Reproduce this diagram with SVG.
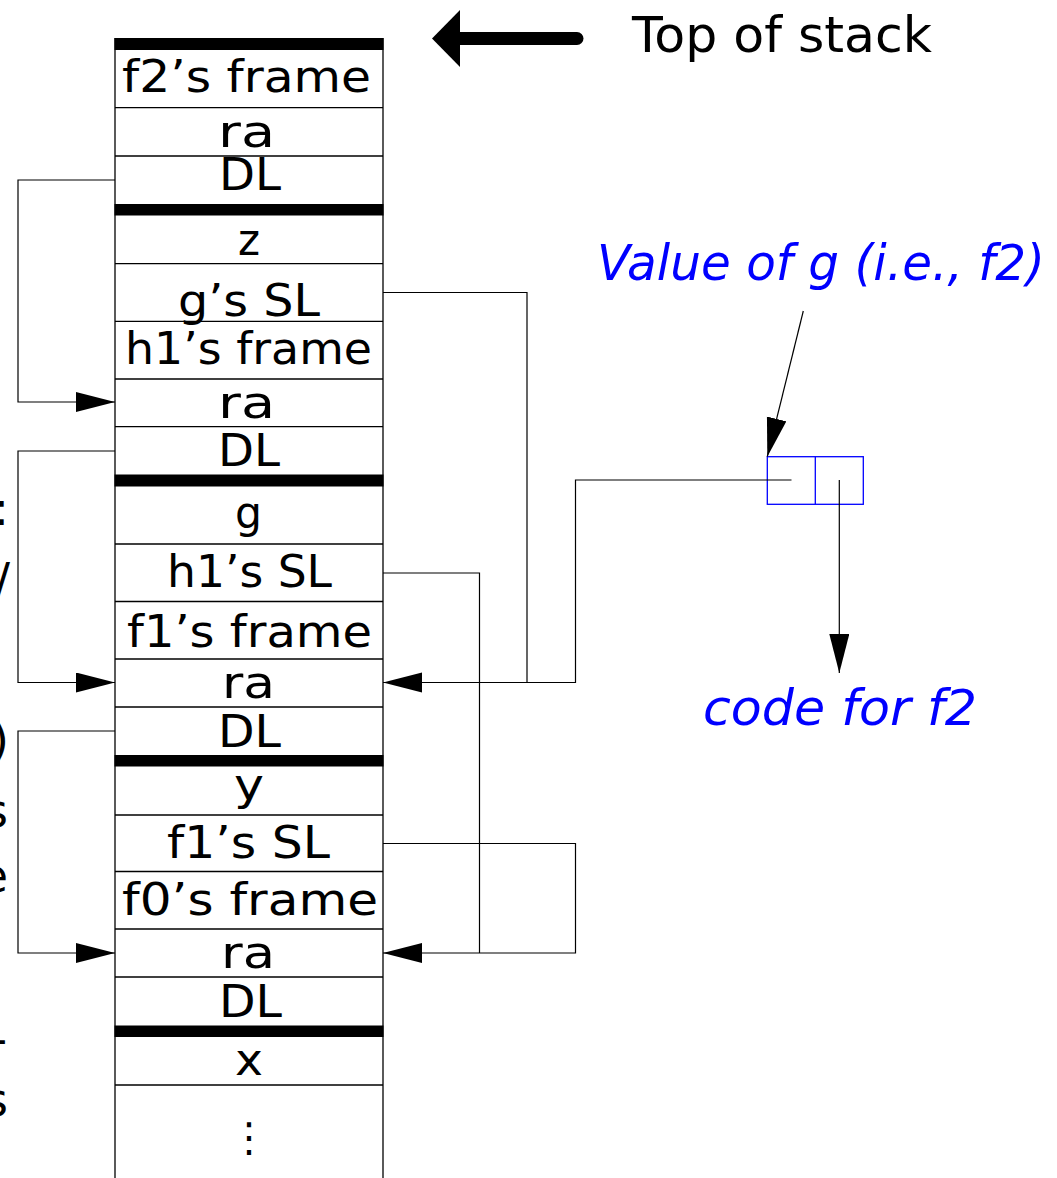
<svg xmlns="http://www.w3.org/2000/svg" width="1057" height="1178" viewBox="0 0 1057 1178">
  <style>
    .cell { fill: none; stroke: #000; stroke-width: 1.3; }
    .bar { fill: #000; }
    .lbl { font-family: "DejaVu Sans", "Liberation Sans", sans-serif; font-size: 45px; fill: #000; text-anchor: start; }
    .blue { font-family: "DejaVu Sans", "Liberation Sans", sans-serif; font-size: 50px; font-style: italic; fill: #0000ff; }
    .conn { fill: none; stroke: #000; stroke-width: 1.2; }
    .frag { font-family: "DejaVu Sans", "Liberation Sans", sans-serif; font-size: 46px; fill: #000; text-anchor: end; }
  </style>
  <defs>
    <marker id="ah" markerUnits="userSpaceOnUse" markerWidth="40" markerHeight="22" refX="39" refY="10" orient="auto">
      <path d="M0,0 L39,10 L0,20 Z" fill="#000"/>
    </marker>
  </defs>
  <rect width="1057" height="1178" fill="#fff"/>

  <g id="margin-fragments">
    <text class="frag" x="9" y="525">:</text>
    <text class="frag" x="10" y="596">/</text>
    <text class="frag" x="9" y="756">)</text>
    <text class="frag" x="8" y="827">s</text>
    <text class="frag" x="8" y="892">e</text>
    <text class="frag" x="7" y="1055">-</text>
    <text class="frag" x="8" y="1116">s</text>
  </g>

  <g id="stack">
    <line class="cell" x1="115" y1="38" x2="115" y2="1178"/>
    <line class="cell" x1="383" y1="38" x2="383" y2="1178"/>
    <rect class="bar" x="114.5" y="38" width="269" height="12"/>
    <rect class="bar" x="114.5" y="204" width="269" height="11.5"/>
    <rect class="bar" x="114.5" y="474.5" width="269" height="12"/>
    <rect class="bar" x="114.5" y="755" width="269" height="11.5"/>
    <rect class="bar" x="114.5" y="1025.5" width="269" height="11.5"/>
    <g id="row-lines">
      <line class="cell" x1="115" y1="107.7" x2="383" y2="107.7"/>
      <line class="cell" x1="115" y1="156" x2="383" y2="156"/>
      <line class="cell" x1="115" y1="263.7" x2="383" y2="263.7"/>
      <line class="cell" x1="115" y1="321.3" x2="383" y2="321.3"/>
      <line class="cell" x1="115" y1="379" x2="383" y2="379"/>
      <line class="cell" x1="115" y1="426.7" x2="383" y2="426.7"/>
      <line class="cell" x1="115" y1="544" x2="383" y2="544"/>
      <line class="cell" x1="115" y1="601.5" x2="383" y2="601.5"/>
      <line class="cell" x1="115" y1="659" x2="383" y2="659"/>
      <line class="cell" x1="115" y1="707" x2="383" y2="707"/>
      <line class="cell" x1="115" y1="815" x2="383" y2="815"/>
      <line class="cell" x1="115" y1="871.5" x2="383" y2="871.5"/>
      <line class="cell" x1="115" y1="929" x2="383" y2="929"/>
      <line class="cell" x1="115" y1="977" x2="383" y2="977"/>
      <line class="cell" x1="115" y1="1085" x2="383" y2="1085"/>
    </g>
  </g>

  <g id="f2-frame"><text class="lbl" x="122" y="92" textLength="249" lengthAdjust="spacingAndGlyphs">f2’s frame</text></g>
  <g id="ra-f2"><text class="lbl" x="218" y="147" textLength="57" lengthAdjust="spacingAndGlyphs">ra</text></g>
  <g id="dl-f2"><text class="lbl" x="219" y="190" textLength="62" lengthAdjust="spacingAndGlyphs">DL</text></g>
  <g id="z"><text class="lbl" x="238" y="255" textLength="22" lengthAdjust="spacingAndGlyphs">z</text></g>
  <g id="g-sl"><text class="lbl" x="178" y="316" textLength="142" lengthAdjust="spacingAndGlyphs">g’s SL</text></g>
  <g id="h1-frame"><text class="lbl" x="125" y="364" textLength="247" lengthAdjust="spacingAndGlyphs">h1’s frame</text></g>
  <g id="ra-h1"><text class="lbl" x="218" y="418" textLength="57" lengthAdjust="spacingAndGlyphs">ra</text></g>
  <g id="dl-h1"><text class="lbl" x="218" y="466" textLength="62" lengthAdjust="spacingAndGlyphs">DL</text></g>
  <g id="g"><text class="lbl" x="235" y="528" textLength="27" lengthAdjust="spacingAndGlyphs">g</text></g>
  <g id="h1-sl"><text class="lbl" x="167" y="587" textLength="165" lengthAdjust="spacingAndGlyphs">h1’s SL</text></g>
  <g id="f1-frame"><text class="lbl" x="127" y="647" textLength="245" lengthAdjust="spacingAndGlyphs">f1’s frame</text></g>
  <g id="ra-f1"><text class="lbl" x="222" y="698" textLength="53" lengthAdjust="spacingAndGlyphs">ra</text></g>
  <g id="dl-f1"><text class="lbl" x="218" y="747" textLength="63" lengthAdjust="spacingAndGlyphs">DL</text></g>
  <g id="y"><text class="lbl" x="234" y="800" textLength="30" lengthAdjust="spacingAndGlyphs">y</text></g>
  <g id="f1-sl"><text class="lbl" x="167" y="858" textLength="163" lengthAdjust="spacingAndGlyphs">f1’s SL</text></g>
  <g id="f0-frame"><text class="lbl" x="122" y="915" textLength="256" lengthAdjust="spacingAndGlyphs">f0’s frame</text></g>
  <g id="ra-f0"><text class="lbl" x="221" y="968" textLength="54" lengthAdjust="spacingAndGlyphs">ra</text></g>
  <g id="dl-f0"><text class="lbl" x="219" y="1017" textLength="63" lengthAdjust="spacingAndGlyphs">DL</text></g>
  <g id="x"><text class="lbl" x="235" y="1075" textLength="28" lengthAdjust="spacingAndGlyphs">x</text></g>
  <g id="more"><text class="lbl" x="249" y="1151" style="text-anchor:middle;font-size:40px">⋮</text></g>

  <g id="top-of-stack">
    <path d="M432,38.5 L460,10 L460,67 Z" fill="#000"/>
    <line x1="455" y1="38.5" x2="577" y2="38.5" stroke="#000" stroke-width="13" stroke-linecap="round"/>
    <text class="lbl" x="632" y="52" textLength="300" lengthAdjust="spacingAndGlyphs" style="font-size:50px">Top of stack</text>
  </g>

  <g id="value-of-g">
    <text class="blue" x="597" y="280" textLength="448" lengthAdjust="spacingAndGlyphs">Value of g (i.e., f2)</text>
  </g>

  <g id="closure-box">
    <rect x="767.3" y="456.7" width="96" height="47.6" fill="none" stroke="#0000ff" stroke-width="1.3"/>
    <line x1="815.3" y1="456.7" x2="815.3" y2="504.3" stroke="#0000ff" stroke-width="1.3"/>
  </g>

  <g id="code-for-f2">
    <text class="blue" x="703" y="725" textLength="274" lengthAdjust="spacingAndGlyphs">code for f2</text>
  </g>

  <g id="connectors">
    <path class="conn" d="M115,180 H18 V402 H115" marker-end="url(#ah)"/>
    <path class="conn" d="M115,451 H18 V682.5 H115" marker-end="url(#ah)"/>
    <path class="conn" d="M115,731 H18 V953 H115" marker-end="url(#ah)"/>
    <path class="conn" d="M383,292.5 H527 V682.5"/>
    <path class="conn" d="M791.5,480 H575.5 V682.5 H383" marker-end="url(#ah)"/>
    <path class="conn" d="M383,573 H479.5 V953"/>
    <path class="conn" d="M383,843.5 H575.5 V953 H383" marker-end="url(#ah)"/>
    <path class="conn" d="M839.3,480 V673" marker-end="url(#ah)"/>
    <path class="conn" d="M803.3,311 L767.3,456.7" marker-end="url(#ah)"/>
  </g>
</svg>
